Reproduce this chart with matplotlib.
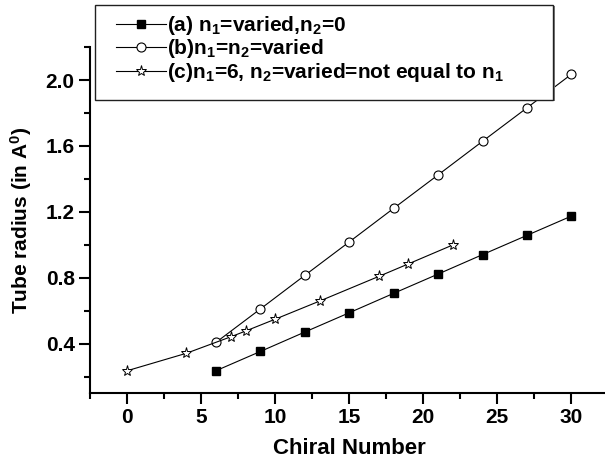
import numpy as np
import matplotlib
matplotlib.use('Agg')
import matplotlib.pyplot as plt
from matplotlib.patches import Rectangle
from matplotlib.ticker import MultipleLocator

plt.rcParams['font.family'] = 'Liberation Sans'
plt.rcParams['font.weight'] = 'bold'
plt.rcParams['mathtext.fontset'] = 'custom'
plt.rcParams['mathtext.rm'] = 'Liberation Sans:bold'
plt.rcParams['mathtext.bf'] = 'Liberation Sans:bold'
plt.rcParams['mathtext.it'] = 'Liberation Sans:bold'

# (a) n1 varied, n2 = 0
chiral_a = [6, 9, 12, 15, 18, 21, 24, 27, 30]
radius_a = [0.235, 0.352, 0.470, 0.587, 0.705, 0.822, 0.940, 1.057, 1.174]
# (b) n1 = n2 varied
chiral_b = [6, 9, 12, 15, 18, 21, 24, 27, 30]
radius_b = [0.407, 0.610, 0.814, 1.017, 1.221, 1.424, 1.628, 1.831, 2.035]
# (c) n1 = 6, n2 varied
chiral_c = [0, 4, 7, 8, 10, 13, 17, 19, 22]
radius_c = [0.235, 0.341, 0.441, 0.476, 0.548, 0.658, 0.808, 0.884, 0.999]

labels = [r'(a) n$_\mathbf{1}$=varied,n$_\mathbf{2}$=0',
          r'(b)n$_\mathbf{1}$=n$_\mathbf{2}$=varied',
          r'(c)n$_\mathbf{1}$=6, n$_\mathbf{2}$=varied=not equal to n$_\mathbf{1}$']

W, H = 605, 465
fig = plt.figure(figsize=(W / 100, H / 100), dpi=100)
ax = fig.add_axes([90 / W, 72 / H, 518.4 / W, 345.9 / H])

ax.plot(chiral_a, radius_a, '-s', color='black', lw=0.8, ms=5.5, mfc='black', mec='black', label=labels[0])
ax.plot(chiral_b, radius_b, '-o', color='black', lw=0.8, ms=6.5, mfc='white', mec='black', mew=0.8, label=labels[1])
ax.plot(chiral_c, radius_c, '-*', color='black', lw=0.8, ms=8, mfc='white', mec='black', mew=0.7, label=labels[2])

ax.set_xlim(-2.5, 32.5)
ax.set_ylim(0.1, 2.2)
ax.xaxis.set_major_locator(MultipleLocator(5))
ax.xaxis.set_minor_locator(MultipleLocator(2.5))
ax.yaxis.set_major_locator(MultipleLocator(0.4))
ax.yaxis.set_minor_locator(MultipleLocator(0.2))
ax.yaxis.set_major_formatter(matplotlib.ticker.FormatStrFormatter('%.1f'))

for s in ['top', 'right']:
    ax.spines[s].set_visible(False)
for s in ['left', 'bottom']:
    ax.spines[s].set_linewidth(1.5)
ax.tick_params(which='major', length=8, width=1.5, labelsize=15, pad=3, direction='out')
ax.tick_params(which='minor', length=4, width=1.5, direction='out')

ax.set_xlabel('Chiral Number', fontsize=16, fontweight='bold', labelpad=8)
ax.set_ylabel(r'Tube radius (in A$^\mathbf{0}$)', fontsize=15, fontweight='bold', labelpad=8)

# legend box with a small grey shadow
x0, y0, x1, y1 = 95, 5, 553, 100
shadow = Rectangle((x0 / W + 1.5 / W, 1 - y1 / H - 1.5 / H), (x1 - x0) / W, (y1 - y0) / H,
                   transform=fig.transFigure, facecolor='#808080', edgecolor='none',
                   zorder=4, clip_on=False)
box = Rectangle((x0 / W, 1 - y1 / H), (x1 - x0) / W, (y1 - y0) / H,
                transform=fig.transFigure, facecolor='white', edgecolor='#202020',
                lw=1.0, zorder=4.5, clip_on=False)
ax.add_artist(shadow)
ax.add_artist(box)

leg = ax.legend(loc='upper left', bbox_to_anchor=(116 / W, 1 - 14 / H),
                bbox_transform=fig.transFigure, frameon=False, borderpad=0,
                borderaxespad=0, handlelength=2.4, handletextpad=0.05,
                labelspacing=0.02, prop={'size': 15, 'weight': 'bold'})
leg.set_zorder(5)

fig.savefig('out.png', dpi=100)
